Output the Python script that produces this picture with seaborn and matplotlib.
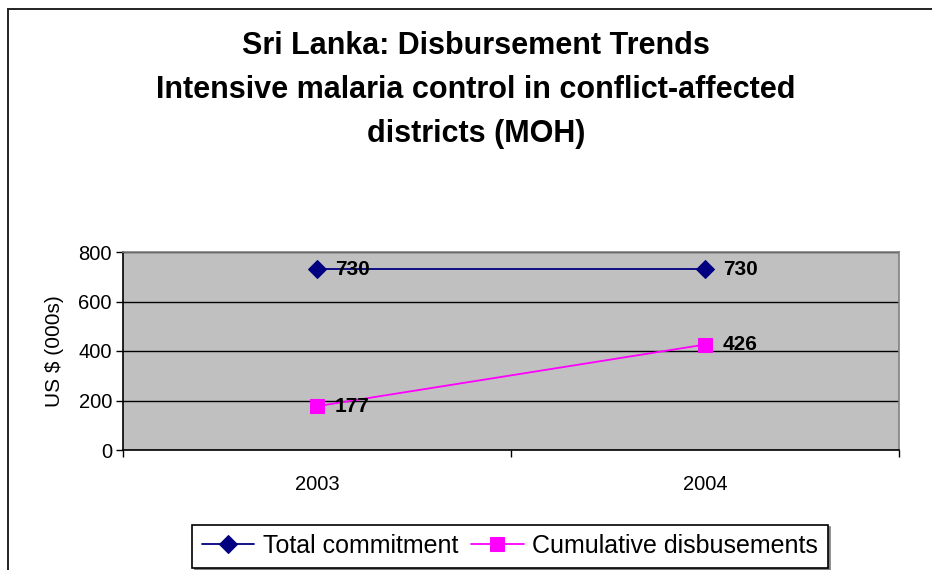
import matplotlib
matplotlib.use("Agg")
import matplotlib.pyplot as plt
import matplotlib.patches as mpatches
import seaborn as sns
import pandas as pd

# Disbursement figures for the MOH malaria grant, US$ thousands
years = ["2003", "2004"]
total_commitment = [730, 730]
cumulative_disbursements = [177, 426]
y_ticks = [0, 200, 400, 600, 800]

series_names = ["Total commitment", "Cumulative disbusements"]
series_colors = ["#000080", "#FF00FF"]
series_markers = ["D", "s"]

sns.set_theme(style="white")
plt.rcParams["font.family"] = ["Liberation Sans", "DejaVu Sans"]
plt.rcParams.update({"text.color": "black", "axes.labelcolor": "black",
                     "xtick.color": "black", "ytick.color": "black"})

W, H = 932, 570
fig = plt.figure(figsize=(W / 100, H / 100), dpi=100)

# outer chart border
fig.patches.append(mpatches.Rectangle((8 / W, -0.2), 2.0, 1.2 - 9 / H,
                                      transform=fig.transFigure, fill=False,
                                      edgecolor="#222222", linewidth=1.4))

left, right, top, bottom = 123, 899, 252, 450
ax = fig.add_axes([left / W, 1 - bottom / H, (right - left) / W, (bottom - top) / H])
ax.set_facecolor("#C0C0C0")

df = pd.DataFrame({
    "year": years * 2,
    "value": total_commitment + cumulative_disbursements,
    "series": [series_names[0]] * len(years) + [series_names[1]] * len(years),
})

for name, color, marker in zip(series_names, series_colors, series_markers):
    sub = df[df["series"] == name]
    sns.lineplot(data=sub, x="year", y="value", ax=ax, color=color,
                 marker=marker, markersize=9 if marker == "D" else 10,
                 markeredgecolor=color, linewidth=1.3, label=name, legend=False)
    for i, v in enumerate(sub["value"]):
        ax.annotate(f"{v}", (i, v), xytext=(13, 0), textcoords="offset points",
                    ha="left", va="center", fontsize=15, fontweight="bold",
                    color="black")

ax.set_xlim(-0.5, 1.5)
ax.set_ylim(0, 800)
ax.set_yticks(y_ticks)
ax.set_yticklabels([str(t) for t in y_ticks], fontsize=14.5)
ax.set_xticks([-0.5, 0.5, 1.5])
ax.set_xticklabels([])
ax.set_xticks([0, 1], minor=True)
ax.set_xticklabels(years, minor=True, fontsize=14.5)
ax.tick_params(axis="x", which="major", direction="out", length=5, width=1, color="black", bottom=True)
ax.tick_params(axis="x", which="minor", length=0, pad=18)
ax.tick_params(axis="y", direction="out", length=5, width=1, color="black", left=True, pad=3)

ax.yaxis.grid(True, color="black", linewidth=1)
ax.set_axisbelow(True)
for s in ["left", "bottom"]:
    ax.spines[s].set_color("black")
    ax.spines[s].set_linewidth(1.2)
for s in ["top", "right"]:
    ax.spines[s].set_color("#808080")
    ax.spines[s].set_linewidth(1.2)

ax.set_xlabel("")
ax.set_ylabel("US $ (000s)", fontsize=15, labelpad=10)

fig.text(476 / W, 1 - 90 / H,
         "Sri Lanka: Disbursement Trends\nIntensive malaria control in conflict-affected\ndistricts (MOH)",
         ha="center", va="center", multialignment="center", fontsize=22,
         fontweight="bold", linespacing=1.6)

handles, labels = ax.get_legend_handles_labels()
leg = fig.legend(handles, labels, loc="center", bbox_to_anchor=(510 / W, 1 - 546 / H),
                 ncol=2, fontsize=18, frameon=True, fancybox=False,
                 handlelength=2.1, columnspacing=0.5, handletextpad=0.35,
                 borderpad=0.38, borderaxespad=0,
                 shadow={"ox": 2, "oy": -2, "color": "#808080", "alpha": 1})
leg.get_frame().set_edgecolor("black")
leg.get_frame().set_linewidth(1.2)

fig.savefig("out.png", dpi=100, facecolor="white")
